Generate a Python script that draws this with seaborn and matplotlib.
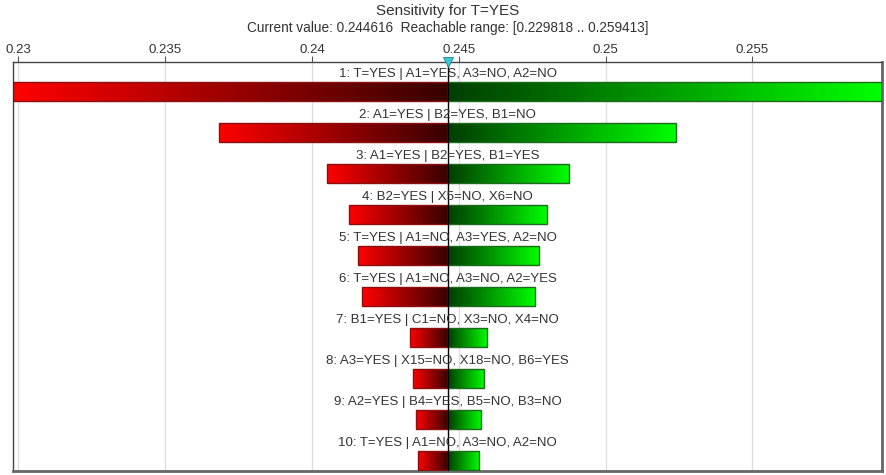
import numpy as np
import pandas as pd
import matplotlib
matplotlib.use("Agg")
import matplotlib.pyplot as plt
import seaborn as sns

# ---- data ----
labels = [
    "1: T=YES | A1=YES, A3=NO, A2=NO",
    "2: A1=YES | B2=YES, B1=NO",
    "3: A1=YES | B2=YES, B1=YES",
    "4: B2=YES | X5=NO, X6=NO",
    "5: T=YES | A1=NO, A3=YES, A2=NO",
    "6: T=YES | A1=NO, A3=NO, A2=YES",
    "7: B1=YES | C1=NO, X3=NO, X4=NO",
    "8: A3=YES | X15=NO, X18=NO, B6=YES",
    "9: A2=YES | B4=YES, B5=NO, B3=NO",
    "10: T=YES | A1=NO, A3=NO, A2=NO",
]
low_values = [0.229818, 0.236837, 0.240510, 0.241259, 0.241565,
              0.241701, 0.243333, 0.243435, 0.243537, 0.243605]
high_values = [0.259413, 0.252381, 0.248741, 0.247993, 0.247721,
               0.247585, 0.245952, 0.245850, 0.245748, 0.245680]
current_value = 0.244616
range_min = 0.229818
range_max = 0.259413
tick_values = [0.23, 0.235, 0.24, 0.245, 0.25, 0.255]
tick_labels = ["0.23", "0.235", "0.24", "0.245", "0.25", "0.255"]
title = "Sensitivity for T=YES"
subtitle = "Current value: 0.244616  Reachable range: [0.229818 .. 0.259413]"

# ---- style ----
sns.set_theme(style="white")
plt.rcParams["font.family"] = ["Liberation Sans", "DejaVu Sans"]
text_color = "#333333"

df = pd.DataFrame({
    "label": labels * 2,
    "side": ["low"] * len(labels) + ["high"] * len(labels),
    "delta": [v - current_value for v in low_values] + [v - current_value for v in high_values],
})

fig = plt.figure(figsize=(8.86, 4.75), dpi=100)
W, H = 886, 475
ax = fig.add_axes([13 / W, 1 - 471 / H, (882 - 13) / W, (471 - 62) / H])

sns.barplot(data=df, x="delta", y="label", hue="side", order=labels,
            hue_order=["low", "high"], dodge=False, width=0.46,
            palette={"low": "red", "high": "lime"}, errorbar=None,
            orient="h", legend=False, ax=ax)

x_lo = range_min - current_value
x_hi = range_max - current_value

# gradients
red_cmap = matplotlib.colors.LinearSegmentedColormap.from_list(
    "r", [(1.0, 0.0, 0.0), (0.22, 0.0, 0.0)])
green_cmap = matplotlib.colors.LinearSegmentedColormap.from_list(
    "g", [(0.0, 0.24, 0.0), (0.0, 1.0, 0.0)])
grad = np.linspace(0, 1, 256).reshape(1, -1)
for p in list(ax.patches):
    bb = p.get_bbox()
    x0, x1 = min(bb.x0, bb.x1), max(bb.x0, bb.x1)
    y0, y1 = min(bb.y0, bb.y1), max(bb.y0, bb.y1)
    if x1 - x0 <= 0:
        continue
    negative = x0 < 0 - 1e-12
    cmap = red_cmap if negative else green_cmap
    edge = "#8a1010" if negative else "#1c6a1c"
    im = ax.imshow(grad, cmap=cmap, extent=(x0, x1, y1, y0), aspect="auto",
                   interpolation="bilinear", zorder=2)
    im.set_clip_path(p)
    p.set_facecolor("none")
    p.set_edgecolor(edge)
    p.set_linewidth(1.0)
    p.set_zorder(3)

ax.set_xlim(x_lo, x_hi)
ax.set_ylim(9.256, -0.72)

# labels above bars
for i, lab in enumerate(labels):
    ax.text(0, i - 0.43, lab, ha="center", va="center", fontsize=9.5,
            color=text_color, zorder=5)

# center line and marker
ax.axvline(0, color="black", lw=1.0, zorder=4)
ax.plot([0], [1.0], marker="v", markersize=7, color="#3cc8d8",
        markeredgecolor="#208090", markeredgewidth=0.6,
        transform=matplotlib.transforms.blended_transform_factory(ax.transData, ax.transAxes),
        clip_on=False, zorder=6)

# axes
ax.xaxis.tick_top()
ax.set_xticks([t - current_value for t in tick_values])
ax.set_xticklabels(tick_labels)
ax.tick_params(axis="x", top=True, bottom=False, length=4, width=0.8,
               color="#555555", labelsize=9.5, labelcolor=text_color, pad=0)
ax.set_yticks([])
ax.set_xlabel("")
ax.set_ylabel("")
ax.grid(axis="x", color="#dddddd", lw=0.9, zorder=0)
ax.set_axisbelow(True)
for s in ["left", "top"]:
    ax.spines[s].set_color("#444444")
    ax.spines[s].set_linewidth(1.0)
for s in ["right", "bottom"]:
    ax.spines[s].set_color("#666666")
    ax.spines[s].set_linewidth(2.0)

fig.text((13 + 882) / 2 / W, 1 - 11 / H, title, ha="center", va="center",
         fontsize=11, color=text_color)
fig.text((13 + 882) / 2 / W, 1 - 28 / H, subtitle, ha="center", va="center",
         fontsize=9.8, color=text_color)

fig.savefig("out.png", dpi=100)
